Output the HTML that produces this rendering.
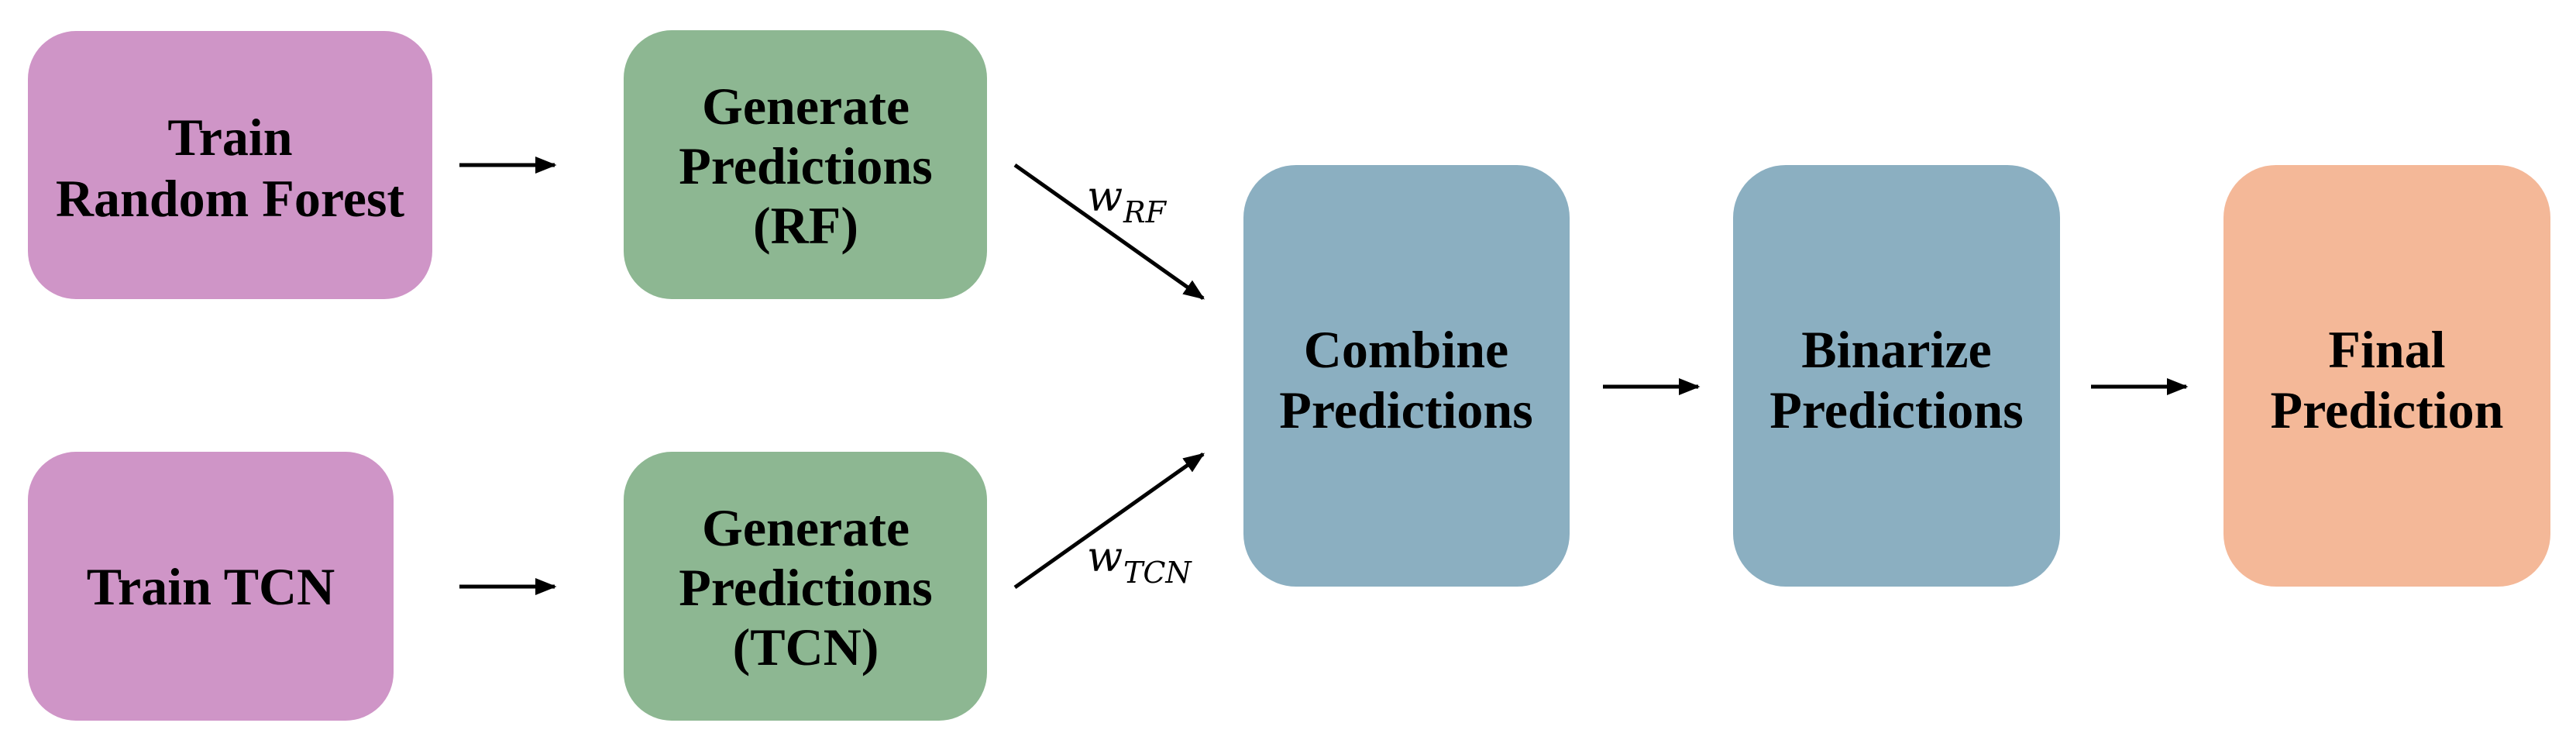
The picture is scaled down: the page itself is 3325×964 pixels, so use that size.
<!DOCTYPE html>
<html><head><meta charset="utf-8"><style>
html,body{margin:0;padding:0;background:#fff;}
svg{display:block;}
.t{font-family:"Liberation Serif",serif;font-weight:bold;font-size:68px;fill:#000;text-anchor:middle;}
.w{font-family:"DejaVu Serif","Liberation Serif",serif;font-style:italic;fill:#000;}
</style></head><body>
<svg width="3325" height="964" viewBox="0 0 3325 964" xmlns="http://www.w3.org/2000/svg">
<defs>
<marker id="ah" markerWidth="6" markerHeight="6" refX="5" refY="3" orient="auto" markerUnits="strokeWidth">
<path d="M0,0.8 L5.5,3 L0,5.2 Z" fill="#000"/>
</marker>
</defs>
<rect x="36" y="40" width="522" height="346" rx="62" ry="62" fill="#CF95C7"/>
<rect x="36" y="583" width="472" height="347" rx="62" ry="62" fill="#CF95C7"/>
<rect x="805" y="39" width="469" height="347" rx="62" ry="62" fill="#8DB792"/>
<rect x="805" y="583" width="469" height="347" rx="62" ry="62" fill="#8DB792"/>
<rect x="1605" y="213" width="421" height="544" rx="68" ry="68" fill="#8BAFC1"/>
<rect x="2237" y="213" width="422" height="544" rx="68" ry="68" fill="#8BAFC1"/>
<rect x="2870" y="213" width="422" height="544" rx="68" ry="68" fill="#F4B898"/>

<text class="t" x="297" y="200">Train</text>
<text class="t" x="297" y="279">Random Forest</text>
<text class="t" x="272" y="780">Train TCN</text>
<text class="t" x="1040" y="160">Generate</text>
<text class="t" x="1040" y="237">Predictions</text>
<text class="t" x="1040" y="314">(RF)</text>
<text class="t" x="1040" y="704">Generate</text>
<text class="t" x="1040" y="781">Predictions</text>
<text class="t" x="1040" y="858">(TCN)</text>
<text class="t" x="1815" y="474">Combine</text>
<text class="t" x="1815" y="552">Predictions</text>
<text class="t" x="2448" y="474">Binarize</text>
<text class="t" x="2448" y="552">Predictions</text>
<text class="t" x="3081" y="474">Final</text>
<text class="t" x="3081" y="552">Prediction</text>

<g stroke="#000" stroke-width="5" fill="none" marker-end="url(#ah)">
<line x1="593" y1="213" x2="716" y2="213"/>
<line x1="593" y1="757" x2="716" y2="757"/>
<line x1="1310" y1="213" x2="1553" y2="385"/>
<line x1="1310" y1="758" x2="1553" y2="586"/>
<line x1="2069" y1="499" x2="2192" y2="499"/>
<line x1="2699" y1="499" x2="2822" y2="499"/>
</g>

<text class="w" x="1403" y="272" font-size="54">w</text>
<text class="w" x="1450" y="287" font-size="38">RF</text>
<text class="w" x="1403" y="737" font-size="54">w</text>
<text class="w" x="1450" y="752" font-size="38">TCN</text>
</svg>
</body></html>
